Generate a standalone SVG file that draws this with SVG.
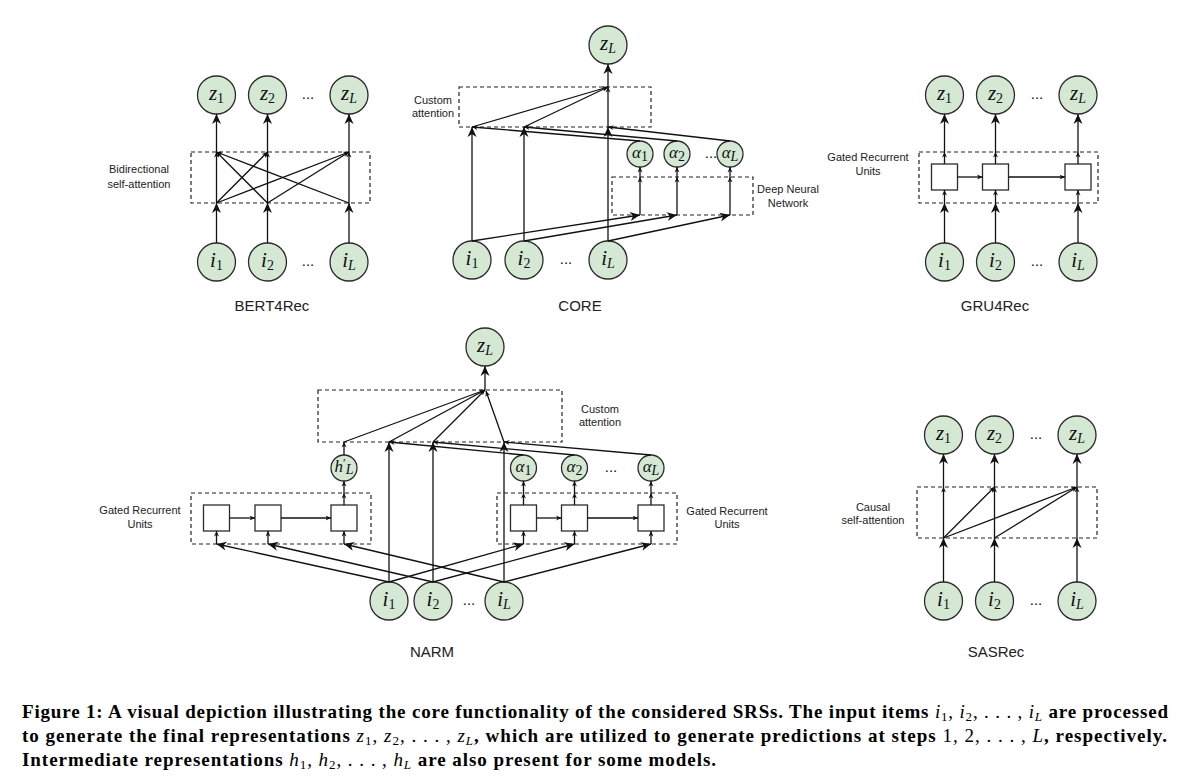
<svg xmlns="http://www.w3.org/2000/svg" width="1204" height="782" viewBox="0 0 1204 782">
<style>
.n{fill:#d5e8d4;stroke:#2b2b2b;stroke-width:1.3}
.box{fill:none;stroke:#222;stroke-width:1.2;stroke-dasharray:4 3}
.sq{fill:#fff;stroke:#2b2b2b;stroke-width:1.3}
.e{fill:none;stroke:#111;stroke-width:1.3}
.b{marker-end:url(#big)}
.s{marker-end:url(#small)}
.lbl{font-family:"Liberation Sans",Arial,sans-serif;font-size:11px;fill:#222;text-anchor:middle}
.ttl{font-family:"Liberation Sans",Arial,sans-serif;font-size:15px;fill:#222;text-anchor:middle}
.dots{font-family:"Liberation Sans",Arial,sans-serif;font-size:15px;fill:#111;text-anchor:middle}
.m{font-family:"Liberation Serif","Times New Roman",serif;font-style:italic;font-size:21px;fill:#111;text-anchor:middle}
.ms{font-family:"Liberation Serif","Times New Roman",serif;font-style:italic;font-size:17px;fill:#111;text-anchor:middle}
.sub{font-size:14px;font-style:normal}
.subi{font-size:14px}
.cap{font-family:"Liberation Serif","Times New Roman",serif;font-weight:bold;font-size:19px;fill:#000}
.ci{font-weight:normal;font-style:italic}
.cn{font-weight:normal}
.cs{font-size:13px;font-weight:normal;font-style:normal}
.csi{font-size:13px;font-weight:normal;font-style:italic}
</style>
<defs>
<marker id="big" viewBox="0 0 10 10" refX="10" refY="5" markerWidth="11" markerHeight="10" orient="auto" markerUnits="userSpaceOnUse"><path d="M0,0.5 L10,5 L0,9.5 L3,5 Z" fill="#111"/></marker>
<marker id="small" viewBox="0 0 10 10" refX="10" refY="5" markerWidth="5.5" markerHeight="5.5" orient="auto" markerUnits="userSpaceOnUse"><path d="M0,0.5 L10,5 L0,9.5 L3,5 Z" fill="#111"/></marker>
</defs>

<!-- ===== BERT4Rec ===== -->
<g id="bert4rec">
<rect class="box" x="191" y="152" width="179" height="51"/>
<text class="lbl" x="139" y="173">Bidirectional</text>
<text class="lbl" x="139" y="188">self-attention</text>
<g id="bert-z1"><circle class="n" cx="216.5" cy="95" r="19"/><text class="m" x="216.5" y="100">z<tspan class="sub" dy="3">1</tspan></text></g>
<g id="bert-z2"><circle class="n" cx="267.5" cy="95" r="19"/><text class="m" x="267.5" y="100">z<tspan class="sub" dy="3">2</tspan></text></g>
<g id="bert-zL"><circle class="n" cx="349" cy="95" r="19"/><text class="m" x="349" y="100">z<tspan class="subi" dy="3">L</tspan></text></g>
<text class="dots" x="308" y="99">...</text>
<g id="bert-i1"><circle class="n" cx="216.5" cy="262" r="19"/><text class="m" x="216.5" y="267">i<tspan class="sub" dy="3">1</tspan></text></g>
<g id="bert-i2"><circle class="n" cx="267.5" cy="262" r="19"/><text class="m" x="267.5" y="267">i<tspan class="sub" dy="3">2</tspan></text></g>
<g id="bert-iL"><circle class="n" cx="349" cy="262" r="19"/><text class="m" x="349" y="267">i<tspan class="subi" dy="3">L</tspan></text></g>
<text class="dots" x="308" y="266">...</text>
<text class="ttl" x="272" y="311">BERT4Rec</text>
</g>

<!-- ===== CORE ===== -->
<g id="core">
<rect class="box" x="459" y="87" width="192" height="40"/>
<text class="lbl" x="433" y="104">Custom</text>
<text class="lbl" x="433" y="117">attention</text>
<rect class="box" x="612" y="177" width="141" height="38"/>
<text class="lbl" x="788" y="193">Deep Neural</text>
<text class="lbl" x="788" y="207">Network</text>
<g id="core-zL"><circle class="n" cx="608" cy="45" r="19"/><text class="m" x="608" y="50">z<tspan class="subi" dy="3">L</tspan></text></g>
<g id="core-a1"><circle class="n" cx="640" cy="154" r="13"/><text class="ms" x="640" y="158">α<tspan class="sub" dy="3">1</tspan></text></g>
<g id="core-a2"><circle class="n" cx="677" cy="154" r="13"/><text class="ms" x="677" y="158">α<tspan class="sub" dy="3">2</tspan></text></g>
<g id="core-aL"><circle class="n" cx="730" cy="154" r="13"/><text class="ms" x="730" y="158">α<tspan class="subi" dy="3">L</tspan></text></g>
<text class="dots" x="711" y="158">...</text>
<g id="core-i1"><circle class="n" cx="472" cy="260" r="19"/><text class="m" x="472" y="265">i<tspan class="sub" dy="3">1</tspan></text></g>
<g id="core-i2"><circle class="n" cx="524" cy="260" r="19"/><text class="m" x="524" y="265">i<tspan class="sub" dy="3">2</tspan></text></g>
<g id="core-iL"><circle class="n" cx="608" cy="260" r="19"/><text class="m" x="608" y="265">i<tspan class="subi" dy="3">L</tspan></text></g>
<text class="dots" x="566" y="264">...</text>
<text class="ttl" x="580" y="311">CORE</text>
</g>

<!-- ===== GRU4Rec ===== -->
<g id="gru4rec">
<rect class="box" x="919" y="152" width="179" height="51"/>
<text class="lbl" x="868" y="161">Gated Recurrent</text>
<text class="lbl" x="868" y="175">Units</text>
<rect class="sq" x="931.5" y="164" width="26" height="26"/>
<rect class="sq" x="982.5" y="164" width="26" height="26"/>
<rect class="sq" x="1065" y="164" width="26" height="26"/>
<g id="gru-z1"><circle class="n" cx="944.5" cy="95" r="19"/><text class="m" x="944.5" y="100">z<tspan class="sub" dy="3">1</tspan></text></g>
<g id="gru-z2"><circle class="n" cx="995.5" cy="95" r="19"/><text class="m" x="995.5" y="100">z<tspan class="sub" dy="3">2</tspan></text></g>
<g id="gru-zL"><circle class="n" cx="1078" cy="95" r="19"/><text class="m" x="1078" y="100">z<tspan class="subi" dy="3">L</tspan></text></g>
<text class="dots" x="1037" y="99">...</text>
<g id="gru-i1"><circle class="n" cx="944.5" cy="262" r="19"/><text class="m" x="944.5" y="267">i<tspan class="sub" dy="3">1</tspan></text></g>
<g id="gru-i2"><circle class="n" cx="995.5" cy="262" r="19"/><text class="m" x="995.5" y="267">i<tspan class="sub" dy="3">2</tspan></text></g>
<g id="gru-iL"><circle class="n" cx="1078" cy="262" r="19"/><text class="m" x="1078" y="267">i<tspan class="subi" dy="3">L</tspan></text></g>
<text class="dots" x="1037" y="266">...</text>
<text class="ttl" x="995" y="311">GRU4Rec</text>
</g>

<!-- ===== NARM ===== -->
<g id="narm">
<rect class="box" x="318" y="390" width="244" height="52"/>
<text class="lbl" x="600" y="413">Custom</text>
<text class="lbl" x="600" y="426">attention</text>
<rect class="box" x="191" y="493" width="180" height="51"/>
<text class="lbl" x="140" y="514">Gated Recurrent</text>
<text class="lbl" x="140" y="528">Units</text>
<rect class="box" x="497" y="493" width="180" height="51"/>
<text class="lbl" x="727" y="515">Gated Recurrent</text>
<text class="lbl" x="727" y="528">Units</text>
<rect class="sq" x="203.5" y="505" width="26" height="26"/>
<rect class="sq" x="255" y="505" width="26" height="26"/>
<rect class="sq" x="331" y="505" width="26" height="26"/>
<rect class="sq" x="510.5" y="505" width="26" height="26"/>
<rect class="sq" x="561.5" y="505" width="26" height="26"/>
<rect class="sq" x="638" y="505" width="26" height="26"/>
<g id="narm-zL"><circle class="n" cx="485" cy="347" r="19"/><text class="m" x="485" y="352">z<tspan class="subi" dy="3">L</tspan></text></g>
<g id="narm-h"><circle class="n" cx="344" cy="468" r="13"/><text class="ms" x="344" y="472">h<tspan font-size="12" font-style="normal" dy="-5">′</tspan><tspan class="subi" font-size="12" dy="7">L</tspan></text></g>
<g id="narm-a1"><circle class="n" cx="523.5" cy="468" r="13"/><text class="ms" x="523.5" y="472">α<tspan class="sub" dy="3">1</tspan></text></g>
<g id="narm-a2"><circle class="n" cx="574.5" cy="468" r="13"/><text class="ms" x="574.5" y="472">α<tspan class="sub" dy="3">2</tspan></text></g>
<g id="narm-aL"><circle class="n" cx="651" cy="468" r="13"/><text class="ms" x="651" y="472">α<tspan class="subi" dy="3">L</tspan></text></g>
<text class="dots" x="611" y="472">...</text>
<g id="narm-i1"><circle class="n" cx="389" cy="601" r="19"/><text class="m" x="389" y="606">i<tspan class="sub" dy="3">1</tspan></text></g>
<g id="narm-i2"><circle class="n" cx="433" cy="601" r="19"/><text class="m" x="433" y="606">i<tspan class="sub" dy="3">2</tspan></text></g>
<g id="narm-iL"><circle class="n" cx="504" cy="601" r="19"/><text class="m" x="504" y="606">i<tspan class="subi" dy="3">L</tspan></text></g>
<text class="dots" x="469" y="605">...</text>
<text class="ttl" x="432" y="657">NARM</text>
</g>

<!-- ===== SASRec ===== -->
<g id="sasrec">
<rect class="box" x="917" y="487" width="180" height="51"/>
<text class="lbl" x="873" y="511">Causal</text>
<text class="lbl" x="873" y="524">self-attention</text>
<g id="sas-z1"><circle class="n" cx="943.5" cy="435" r="19"/><text class="m" x="943.5" y="440">z<tspan class="sub" dy="3">1</tspan></text></g>
<g id="sas-z2"><circle class="n" cx="994.5" cy="435" r="19"/><text class="m" x="994.5" y="440">z<tspan class="sub" dy="3">2</tspan></text></g>
<g id="sas-zL"><circle class="n" cx="1077" cy="435" r="19"/><text class="m" x="1077" y="440">z<tspan class="subi" dy="3">L</tspan></text></g>
<text class="dots" x="1036" y="439">...</text>
<g id="sas-i1"><circle class="n" cx="943.5" cy="601" r="19"/><text class="m" x="943.5" y="606">i<tspan class="sub" dy="3">1</tspan></text></g>
<g id="sas-i2"><circle class="n" cx="994.5" cy="601" r="19"/><text class="m" x="994.5" y="606">i<tspan class="sub" dy="3">2</tspan></text></g>
<g id="sas-iL"><circle class="n" cx="1077" cy="601" r="19"/><text class="m" x="1077" y="606">i<tspan class="subi" dy="3">L</tspan></text></g>
<text class="dots" x="1036" y="605">...</text>
<text class="ttl" x="996" y="657">SASRec</text>
</g>

<!-- ===== connectors ===== -->
<g id="connectors" class="e">
<!-- BERT4Rec -->
<path class="b" d="M216.5,243V203"/><path class="b" d="M267.5,243V203"/><path class="b" d="M349,243V203"/>
<path class="b" d="M216.5,152V114"/><path class="b" d="M267.5,152V114"/><path class="b" d="M349,152V114"/>
<path class="s" d="M216.5,203L216.5,152"/><path class="s" d="M216.5,203L267.5,152"/><path class="s" d="M216.5,203L349,152"/>
<path class="s" d="M267.5,203L216.5,152"/><path class="s" d="M267.5,203L267.5,152"/><path class="s" d="M267.5,203L349,152"/>
<path class="s" d="M349,203L216.5,152"/><path class="s" d="M349,203L349,152"/>
<!-- CORE -->
<path class="b" d="M472,241V127"/><path class="b" d="M524,241V127"/><path class="b" d="M608,241V127"/>
<path class="b" d="M472,241L640,215"/><path class="b" d="M524,241L677,215"/><path class="b" d="M608,241L730,215"/>
<path class="s" d="M640,215V177"/><path class="s" d="M677,215V177"/><path class="s" d="M730,215V177"/>
<path class="s" d="M640,177V167"/><path class="s" d="M677,177V167"/><path class="s" d="M730,177V167"/>
<path class="s" d="M640,141L472,127"/><path class="s" d="M677,141L524,127"/><path class="s" d="M730,141L608,127"/>
<path class="s" d="M472,127L608,87"/><path class="s" d="M524,127L608,87"/><path class="s" d="M608,127V87"/>
<path class="b" d="M608,87V64"/>
<!-- GRU4Rec -->
<path class="b" d="M944.5,243V203"/><path class="b" d="M995.5,243V203"/><path class="b" d="M1078,243V203"/>
<path class="s" d="M944.5,203V190"/><path class="s" d="M995.5,203V190"/><path class="s" d="M1078,203V190"/>
<path class="s" d="M944.5,164V152"/><path class="s" d="M995.5,164V152"/><path class="s" d="M1078,164V152"/>
<path class="b" d="M944.5,152V114"/><path class="b" d="M995.5,152V114"/><path class="b" d="M1078,152V114"/>
<path class="s" d="M957.5,177H982.5"/><path class="s" d="M1008.5,177H1065"/>
<!-- NARM -->
<path class="b" d="M389,582V442"/><path class="b" d="M433,582V442"/><path class="b" d="M504,582V442"/>
<path class="b" d="M389,582L216.5,544"/><path class="b" d="M433,582L268,544"/><path class="b" d="M504,582L344,544"/>
<path class="b" d="M389,582L523.5,544"/><path class="b" d="M433,582L574.5,544"/><path class="b" d="M504,582L651,544"/>
<path class="s" d="M216.5,544V531"/><path class="s" d="M268,544V531"/><path class="s" d="M344,544V531"/>
<path class="s" d="M523.5,544V531"/><path class="s" d="M574.5,544V531"/><path class="s" d="M651,544V531"/>
<path class="s" d="M229.5,518H255"/><path class="s" d="M281,518H331"/>
<path class="s" d="M536.5,518H561.5"/><path class="s" d="M587.5,518H638"/>
<path class="s" d="M344,505V493"/><path class="s" d="M523.5,505V493"/><path class="s" d="M574.5,505V493"/><path class="s" d="M651,505V493"/>
<path class="s" d="M344,493V481"/><path class="s" d="M523.5,493V481"/><path class="s" d="M574.5,493V481"/><path class="s" d="M651,493V481"/>
<path class="s" d="M344,455V442"/>
<path class="s" d="M523.5,455L389,442"/><path class="s" d="M574.5,455L433,442"/><path class="s" d="M651,455L504,442"/>
<path class="s" d="M344,442L485,390"/><path class="s" d="M389,442L485,390"/><path class="s" d="M433,442L485,390"/><path class="s" d="M504,442L486,391"/>
<path class="b" d="M485,390V366"/>
<!-- SASRec -->
<path class="b" d="M943.5,582V538"/><path class="b" d="M994.5,582V538"/><path class="b" d="M1077,582V538"/>
<path class="s" d="M943.5,538L943.5,487"/><path class="s" d="M943.5,538L994.5,487"/><path class="s" d="M943.5,538L1077,487"/>
<path class="s" d="M994.5,538L994.5,487"/><path class="s" d="M994.5,538L1077,487"/><path class="s" d="M1077,538L1077,487"/>
<path class="b" d="M943.5,487V454"/><path class="b" d="M994.5,487V454"/><path class="b" d="M1077,487V454"/>
</g>

<!-- ===== caption ===== -->
<g id="caption">
<text class="cap" x="22" y="718" textLength="1146" lengthAdjust="spacing">Figure 1: A visual depiction illustrating the core functionality of the considered SRSs. The input items <tspan class="ci">i</tspan><tspan class="cs" dy="3">1</tspan><tspan class="cn" dy="-3">, </tspan><tspan class="ci">i</tspan><tspan class="cs" dy="3">2</tspan><tspan class="cn" dy="-3">, . . . , </tspan><tspan class="ci">i</tspan><tspan class="csi" dy="3">L</tspan><tspan dy="-3"> are processed</tspan></text>
<text class="cap" x="22" y="742" textLength="1145" lengthAdjust="spacing">to generate the final representations <tspan class="ci">z</tspan><tspan class="cs" dy="3">1</tspan><tspan class="cn" dy="-3">, </tspan><tspan class="ci">z</tspan><tspan class="cs" dy="3">2</tspan><tspan class="cn" dy="-3">, . . . , </tspan><tspan class="ci">z</tspan><tspan class="csi" dy="3">L</tspan><tspan dy="-3">, which are utilized to generate predictions at steps </tspan><tspan class="cn">1, 2, . . . , </tspan><tspan class="ci">L</tspan>, respectively.</text>
<text class="cap" x="22" y="766" textLength="694" lengthAdjust="spacing">Intermediate representations <tspan class="ci">h</tspan><tspan class="cs" dy="3">1</tspan><tspan class="cn" dy="-3">, </tspan><tspan class="ci">h</tspan><tspan class="cs" dy="3">2</tspan><tspan class="cn" dy="-3">, . . . , </tspan><tspan class="ci">h</tspan><tspan class="csi" dy="3">L</tspan><tspan dy="-3"> are also present for some models.</tspan></text>
</g>
</svg>
